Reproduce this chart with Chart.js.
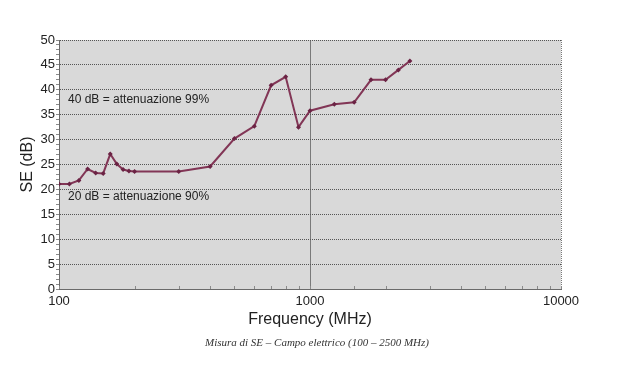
<!DOCTYPE html>
<html>
<head>
<meta charset="utf-8">
<script src="https://cdn.jsdelivr.net/npm/chart.js@4"></script>
<style>
    body { margin: 0; background: #ffffff; }
    #chart { display: block; }
</style>
</head>
<body>
<canvas id="chart" width="622" height="372"></canvas>
<script>
// Frequenze (MHz) e valori di SE (dB)
const frequencies = [100, 110, 120, 130, 140, 150, 160, 170, 180, 190, 200,
    300, 400, 500, 600, 700, 800, 900, 1000, 1250, 1500, 1750, 2000, 2250, 2500];
const seValues = [21.1, 21.1, 21.8, 24.1, 23.3, 23.2, 27.1, 25.1, 24.0, 23.7, 23.6,
    23.6, 24.6, 30.2, 32.7, 40.9, 42.6, 32.5, 35.8, 37.1, 37.5, 42.0, 42.0, 44.0, 45.8];

const xMajorTicks = [100, 1000, 10000];
const yMin = 0;
const yMax = 50;

// Testi del grafico
const yTitle = 'SE (dB)';
const xTitle = 'Frequency (MHz)';
const caption = 'Misura di SE \u2013 Campo elettrico (100 \u2013 2500 MHz)';
const notes = [
    { text: '40 dB = attenuazione 99%', value: 38.0 },
    { text: '20 dB = attenuazione 90%', value: 18.5 }
];

const points = frequencies.map((f, i) => ({ x: f, y: seValues[i] }));

// Sfondo grigio, cornice, tacche interne e testi aggiuntivi
const decorPlugin = {
    id: 'decor',
    beforeDraw(chart) {
        const { ctx, chartArea } = chart;
        ctx.save();
        ctx.fillStyle = '#d9d9d9';
        ctx.fillRect(chartArea.left, chartArea.top,
            chartArea.right - chartArea.left, chartArea.bottom - chartArea.top);
        ctx.restore();
    },
    afterDatasetsDraw(chart) {
        const { ctx, chartArea, scales } = chart;
        ctx.save();
        // bordo destro tratteggiato
        ctx.strokeStyle = '#7a7a7a';
        ctx.lineWidth = 1;
        ctx.setLineDash([1, 1]);
        ctx.beginPath();
        ctx.moveTo(Math.round(chartArea.right) + 0.5, chartArea.top);
        ctx.lineTo(Math.round(chartArea.right) + 0.5, chartArea.bottom);
        ctx.stroke();
        ctx.setLineDash([]);

        // tacche dell'asse x verso l'interno
        ctx.strokeStyle = '#8a8a8a';
        ctx.beginPath();
        for (const tick of scales.x.ticks) {
            const px = Math.round(scales.x.getPixelForValue(tick.value)) + 0.5;
            ctx.moveTo(px, chartArea.bottom);
            ctx.lineTo(px, chartArea.bottom - 3);
        }
        ctx.stroke();

        ctx.fillStyle = '#222222';
        ctx.font = '12px "Liberation Sans", Arial, sans-serif';
        ctx.textAlign = 'left';
        ctx.textBaseline = 'middle';
        for (const note of notes) {
            ctx.fillText(note.text, chartArea.left + 9, scales.y.getPixelForValue(note.value));
        }

        ctx.fillStyle = '#333333';
        ctx.font = 'italic 11px "Liberation Serif", "Times New Roman", serif';
        ctx.textAlign = 'center';
        ctx.fillText(caption, (chartArea.left + chartArea.right) / 2 + 7, 343);
        ctx.restore();
    }
};

const ctx = document.getElementById('chart').getContext('2d');
new Chart(ctx, {
    type: 'line',
    data: {
        datasets: [{
            label: 'SE',
            data: points,
            borderColor: '#823656',
            backgroundColor: '#6b2344',
            borderWidth: 2,
            pointStyle: 'rectRot',
            pointRadius: 2.5,
            pointBorderWidth: 0,
            tension: 0,
            fill: false
        }]
    },
    options: {
        responsive: false,
        animation: false,
        devicePixelRatio: 1,
        layout: {
            padding: { left: 10, right: 61, top: 40, bottom: 38 }
        },
        plugins: {
            legend: { display: false },
            tooltip: { enabled: false }
        },
        scales: {
            x: {
                type: 'logarithmic',
                min: 100,
                max: 10000,
                afterFit: (scale) => { scale.height = 45; },
                ticks: {
                    autoSkip: false,
                    maxRotation: 0,
                    padding: 5,
                    color: '#222222',
                    font: { family: '"Liberation Sans", Arial, sans-serif', size: 13 },
                    callback: (value) => xMajorTicks.includes(value) ? String(value) : ''
                },
                grid: {
                    color: (c) => c.tick && c.tick.value === 1000 ? '#7a7a7a' : 'rgba(0,0,0,0)',
                    drawTicks: false
                },
                border: { color: '#6a6a6a', width: 1 },
                title: {
                    display: true,
                    text: xTitle,
                    color: '#222222',
                    font: { family: '"Liberation Sans", Arial, sans-serif', size: 16 },
                    padding: { top: 0, bottom: 5 }
                }
            },
            y: {
                min: yMin,
                max: yMax,
                afterFit: (scale) => { scale.width = 49; },
                ticks: {
                    stepSize: 1,
                    autoSkip: false,
                    padding: 1,
                    color: '#222222',
                    font: { family: '"Liberation Sans", Arial, sans-serif', size: 13 },
                    callback: (value) => value % 5 === 0 ? String(value) : ''
                },
                grid: {
                    color: (c) => c.tick && c.tick.value % 5 === 0 && c.tick.value > 0 ? '#555555' : 'rgba(0,0,0,0)',
                    tickColor: '#8a8a8a',
                    tickLength: 3
                },
                border: { color: '#6a6a6a', width: 1, dash: [1, 1] },
                title: {
                    display: true,
                    text: yTitle,
                    color: '#222222',
                    font: { family: '"Liberation Sans", Arial, sans-serif', size: 16 },
                    padding: { top: 8, bottom: 0 }
                }
            }
        }
    },
    plugins: [decorPlugin]
});
</script>
</body>
</html>
